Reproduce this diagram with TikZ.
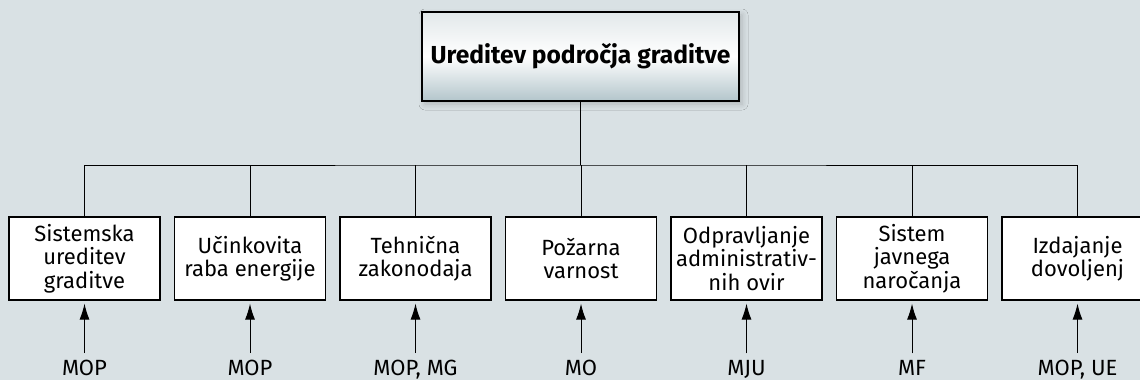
\documentclass[tikz,border=0pt]{standalone}
\usepackage{fontspec}
\setmainfont{Fira Sans}
\usetikzlibrary{positioning,arrows.meta,shadows.blur}
\definecolor{paper}{HTML}{D9E1E4}
\definecolor{steel}{HTML}{B3C5CB}
\definecolor{mist}{HTML}{E2E8EA}

\begin{document}
\begin{tikzpicture}[x=0.5pt, y=-0.5pt, node distance=6.65pt, line width=0.5pt,
    head/.style = {draw, line width=0.7pt, minimum width=158.5pt, minimum height=44.5pt,
      top color=mist, bottom color=steel, middle color=white,
      blur shadow={shadow xshift=1.5pt, shadow yshift=-1.5pt, shadow blur radius=3pt, shadow opacity=20},
      font=\bfseries\fontsize{12.3}{14}\selectfont},
    field/.style = {draw, line width=0.6pt, fill=white, minimum width=75.5pt, minimum height=41.5pt,
      inner sep=0pt, align=center, font=\fontsize{11}{11.7}\selectfont},
    ministry/.style = {anchor=base, inner sep=0pt, font=\fontsize{11}{12}\selectfont},
    arr/.style = {-{Latex[length=8pt, width=5pt]}, shorten <=3pt, shorten >=1.5pt}]
  \clip (0,0) rectangle (1140,380);
  \fill[paper] (0,0) rectangle (1140,380);

  \node[head] (root) at (580.5,56.5) {Ureditev področja graditve};

  \node[field] (s1) at (84.5,258.5) {Sistemska\\ureditev\\graditve};
  \node[field] (s2) [right=of s1] {Učinkovita\\raba energije};
  \node[field] (s3) [right=of s2] {Tehnična\\zakonodaja};
  \node[field] (s4) [right=of s3] {Požarna\\varnost};
  \node[field] (s5) [right=of s4] {Odpravljanje\\administrativ-\\nih ovir};
  \node[field] (s6) [right=of s5] {Sistem\\javnega\\naročanja};
  \node[field] (s7) [right=of s6] {Izdajanje\\dovoljenj};

  \coordinate (bus) at (580.5,165);
  \draw (root) -- (bus);
  \draw (s1) |- (bus) -| (s7);
  \foreach \i in {2,...,6}
    \draw (s\i) -- (s\i |- bus);

  \node[ministry] (m1) at (s1.south |- 0,375) {MOP};
  \node[ministry] (m2) at (s2.south |- 0,375) {MOP};
  \node[ministry] (m3) at (s3.south |- 0,375) {MOP, MG};
  \node[ministry] (m4) at (s4.south |- 0,375) {MO};
  \node[ministry] (m5) at (s5.south |- 0,375) {MJU};
  \node[ministry] (m6) at (s6.south |- 0,375) {MF};
  \node[ministry] (m7) at (s7.south |- 0,375) {MOP, UE};

  \foreach \i in {1,...,7}
    \draw[arr] (m\i.north) -- (s\i.south);
\end{tikzpicture}
\end{document}
